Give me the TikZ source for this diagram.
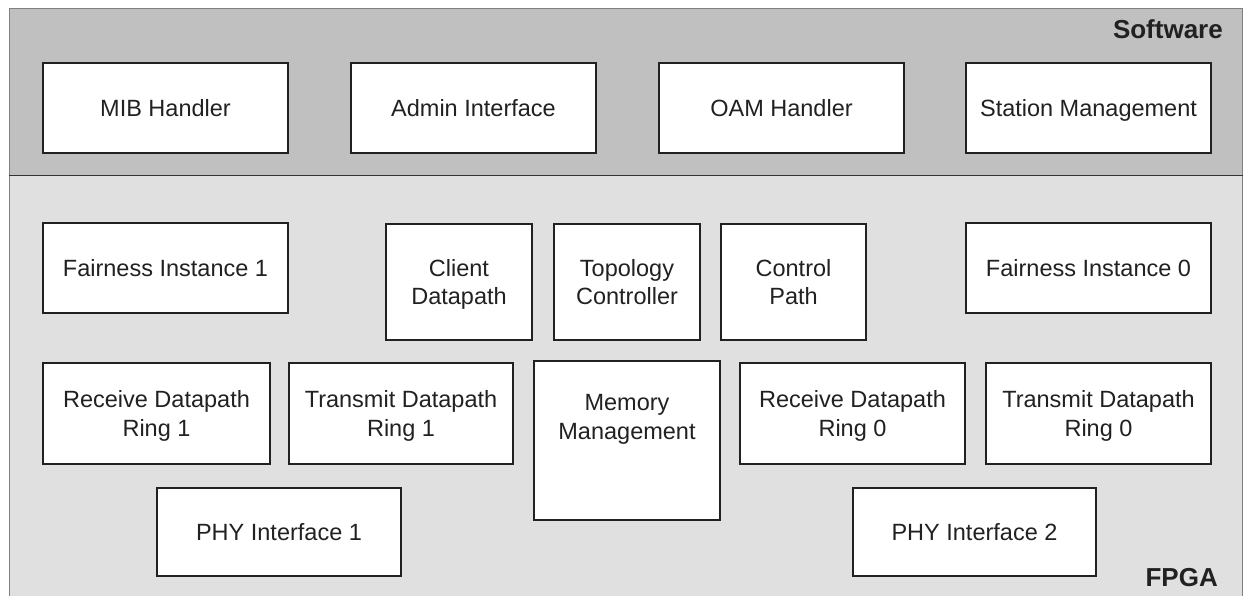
\documentclass[tikz,border=0pt]{standalone}
\usepackage{fontspec}
\setmainfont{Liberation Sans}
\begin{document}
\begin{tikzpicture}[x=1pt,y=-1pt,
  blk/.style={draw=black!87, line width=2pt, fill=white, inner sep=0pt, outer sep=0pt,
    align=center, text=black!87, text depth=0pt,
    font=\fontsize{23.5}{28.5}\selectfont},
  zonelabel/.style={inner sep=0pt, text=black!87, font=\fontsize{26}{30}\selectfont\bfseries}]
\definecolor{swgray}{HTML}{C0C0C0}
\definecolor{fpgagray}{HTML}{E0E0E0}
\useasboundingbox (0,0) rectangle (1243,596);
\clip (0,0) rectangle (1243,596);
% bands
\fill[swgray] (9,8) rectangle (1242.5,176);
\fill[fpgagray] (9,176) rectangle (1242.5,600);
\draw[black!50, line width=1pt] (9,605) -- (9,8.5) -- (1242.5,8.5) -- (1242.5,605);
\draw[black!80, line width=1pt] (9,176) -- (1242.5,176);
\node[zonelabel, anchor=base east] (sw) at (1223,39) {Software};
\node[zonelabel, anchor=base east] (fpga) at (1218,586) {FPGA};
% software row
\node[blk, minimum width=245pt, minimum height=90pt] (mib) at (165.5,108) {MIB Handler};
\node[blk, minimum width=245pt, minimum height=90pt] (admin) at (473.5,108) {Admin Interface};
\node[blk, minimum width=245pt, minimum height=90pt] (oam) at (781.5,108) {OAM Handler};
\node[blk, minimum width=245pt, minimum height=90pt] (stm) at (1088.5,108) {Station Management};
% fpga row 1
\node[blk, minimum width=245pt, minimum height=90pt] (fair1) at (165.5,268) {Fairness Instance 1};
\node[blk, minimum width=146pt, minimum height=116pt] (client) at (459,282) {Client\\Datapath};
\node[blk, minimum width=146pt, minimum height=116pt] (topo) at (627,282) {Topology\\Controller};
\node[blk, minimum width=145pt, minimum height=116pt] (ctrl) at (793.5,282) {Control\\Path};
\node[blk, minimum width=245pt, minimum height=90pt] (fair0) at (1088.5,268) {Fairness Instance 0};
% fpga row 2
\node[blk, minimum width=227pt, minimum height=101pt] (rx1) at (156.5,413.5) {Receive Datapath\\Ring 1};
\node[blk, minimum width=224pt, minimum height=101pt] (tx1) at (401,413.5) {Transmit Datapath\\Ring 1};
\node[blk, minimum width=186pt, minimum height=159pt] (mem) at (627,440.5) {};
\node[inner sep=0pt, align=center, text=black!87, text depth=0pt,
  font=\fontsize{23.5}{28.5}\selectfont] (memtext) at (627,417) {Memory\\Management};
\node[blk, minimum width=225pt, minimum height=101pt] (rx0) at (852.5,413.5) {Receive Datapath\\Ring 0};
\node[blk, minimum width=225pt, minimum height=101pt] (tx0) at (1098.5,413.5) {Transmit Datapath\\Ring 0};
% fpga row 3
\node[blk, minimum width=244pt, minimum height=88pt] (phy1) at (279,532) {PHY Interface 1};
\node[blk, minimum width=243pt, minimum height=88pt] (phy2) at (974.5,532) {PHY Interface 2};
\end{tikzpicture}
\end{document}
